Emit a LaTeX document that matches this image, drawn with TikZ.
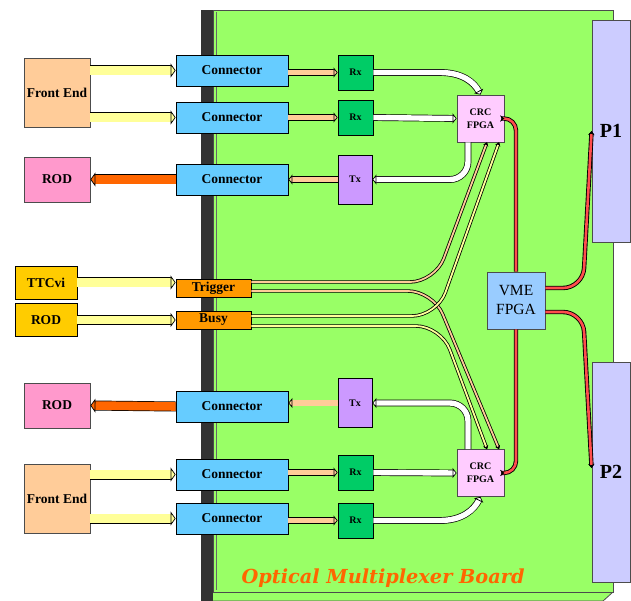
\documentclass[tikz,border=0pt]{standalone}
\usepackage{fontspec}
\usepackage{xcolor}
\usepackage{tikz}
\usetikzlibrary{arrows.meta}
\setmainfont{Liberation Serif}
\newfontfamily\titlefont{DejaVu Serif}

% colours
\definecolor{boardgreen}{HTML}{99FF66}
\definecolor{stripgray}{HTML}{333333}
\definecolor{fepeach}{HTML}{FFCC99}
\definecolor{rodpink}{HTML}{FF99CC}
\definecolor{connblue}{HTML}{66CCFF}
\definecolor{ttcgold}{HTML}{FFCC00}
\definecolor{trigorange}{HTML}{FF9900}
\definecolor{rxgreen}{HTML}{00CC66}
\definecolor{txviolet}{HTML}{CC99FF}
\definecolor{crcpink}{HTML}{FFCCFF}
\definecolor{vmeblue}{HTML}{99CCFF}
\definecolor{plilac}{HTML}{CCCCFF}
\definecolor{feedyellow}{HTML}{FFFF99}
\definecolor{rodorange}{HTML}{FF6600}
\definecolor{vmered}{HTML}{FF4D4D}

\tikzset{
  % boxes
  box/.style={draw=black, line width=0.8pt, inner sep=0pt, align=center,
    font=\fontsize{13.5}{15}\selectfont\bfseries},
  fe/.style={box, fill=fepeach, draw=black!70, minimum width=66pt, minimum height=69pt},
  rod/.style={box, fill=rodpink, draw=black!70, minimum width=66pt, minimum height=45pt},
  ttc/.style={box, fill=ttcgold, minimum width=62pt, minimum height=33pt},
  conn/.style={box, fill=connblue, minimum width=112pt, minimum height=31pt},
  trig/.style={box, fill=trigorange, minimum width=75pt, minimum height=18pt},
  rx/.style={box, fill=rxgreen, minimum width=35pt, minimum height=35pt,
    font=\fontsize{10}{12}\selectfont\bfseries},
  tx/.style={rx, fill=txviolet, minimum width=34pt, minimum height=49pt},
  crc/.style={box, fill=crcpink, draw=black!70, minimum width=47pt, minimum height=47pt,
    font=\fontsize{10}{13}\selectfont\bfseries},
  vme/.style={box, fill=vmeblue, draw=black!70, minimum width=58pt, minimum height=57pt,
    font=\fontsize{15.5}{19}\selectfont},
  pslot/.style={box, fill=plilac, draw=black!70, minimum width=38pt,
    font=\fontsize{20}{22}\selectfont\bfseries},
  % block arrows
  bigarrow/.style={draw=#1, line width=8.6pt,
    -{Triangle[length=5pt, width=14pt, color=black, fill=#1, line width=0.7pt]},
    preaction={draw=black, line width=10pt, arrows=-, shorten >=4pt}},
  medarrow/.style={draw=#1, line width=5.4pt,
    -{Triangle[length=4pt, width=10pt, color=black, fill=#1, line width=0.7pt]},
    preaction={draw=black, line width=6.8pt, arrows=-, shorten >=3pt}},
  % signal lines
  sigline/.style={draw=#1, line width=1.8pt, -{Stealth[length=3.5pt, width=5pt, color=black]},
    preaction={draw=black, line width=3.4pt}},
  busline/.style={draw=vmered, line width=2.6pt, -{Stealth[length=4pt, width=6pt, color=black]},
    preaction={draw=black, line width=4.4pt}}
}

\begin{document}
\begin{tikzpicture}[x=1pt, y=-1pt]
  \useasboundingbox (0,0) rectangle (631,601);

  % Board
  \fill[stripgray] (201,10) rectangle (213,601);
  \draw[fill=boardgreen, draw=black!70, line width=0.8pt] (213,592) -- (613,592) -- (603,601) -- (213,601);
  \draw[fill=boardgreen, draw=black!70, line width=0.8pt] (213,10) rectangle (613,592);
  \draw[black!60, line width=0.6pt] (216,12) -- (216,590);

  % Backplane connectors
  \node[pslot, minimum height=222pt] (p1) at (611,131) {P1};
  \node[pslot, minimum height=220pt] (p2) at (611,472) {P2};

  % Outside
  \node[fe]  (fe1)   at (57,92.5)   {Front End};
  \node[rod] (rod1)  at (57,179.5)  {ROD};
  \node[ttc] (ttcvi) at (46,282.5)  {TTCvi};
  \node[ttc] (rod2)  at (46,320)    {ROD};
  \node[rod] (rod3)  at (57,405.5)  {ROD};
  \node[fe]  (fe2)   at (57,499)    {Front End};

  % Front panel
  \node[conn] (conn1) at (232,70.5)  {Connector};
  \node[conn] (conn2) at (232,117.5) {Connector};
  \node[conn] (conn3) at (232,179.5) {Connector};
  \node[trig] (trig)  at (213.5,288) {Trigger};
  \node[trig] (busy)  at (213.5,320) {Busy};
  \node[conn] (conn4) at (232,406.5) {Connector};
  \node[conn] (conn5) at (232,474.5) {Connector};
  \node[conn] (conn6) at (232,518.5) {Connector};

  % Transceivers
  \node[rx] (rx1) at (355.5,72.5)  {Rx};
  \node[rx] (rx2) at (355.5,117.5) {Rx};
  \node[tx] (tx1) at (355,179.5)   {Tx};
  \node[tx] (tx2) at (355,403)     {Tx};
  \node[rx] (rx3) at (355.5,472.5) {Rx};
  \node[rx] (rx4) at (355.5,520.5) {Rx};

  % FPGAs
  \node[crc] (crc1) at (480.5,118.5) {CRC\\FPGA};
  \node[crc] (crc2) at (480.5,473)   {CRC\\FPGA};
  \node[vme] (vme)  at (516,300.5)   {VME\\FPGA};

  % Inputs and outputs
  \draw[bigarrow=feedyellow] (fe1.east |- conn1.west) -- (conn1.west);
  \draw[bigarrow=feedyellow] (fe1.east |- conn2.west) -- (conn2.west);
  \draw[bigarrow=rodorange] (conn3.west) -- (rod1.east);
  \draw[bigarrow=feedyellow] (ttcvi.east) -- (trig.west |- ttcvi.east);
  \draw[bigarrow=feedyellow] (rod2.east) -- (busy.west);
  \draw[bigarrow=rodorange] (conn4.west) -- (rod3.east);
  \draw[bigarrow=feedyellow] (fe2.east |- conn5.west) -- (conn5.west);
  \draw[bigarrow=feedyellow] (fe2.east |- conn6.west) -- (conn6.west);

  % Optical links
  \draw[medarrow=fepeach] (conn1.east |- rx1.west) -- (rx1.west);
  \draw[medarrow=fepeach] (conn2.east |- rx2.west) -- (rx2.west);
  \draw[medarrow=fepeach] (tx1.west) -- (conn3.east |- tx1.west);
  \draw[medarrow=fepeach] (tx2.west) -- (conn4.east |- tx2.west);
  \draw[medarrow=fepeach] (conn5.east |- rx3.west) -- (rx3.west);
  \draw[medarrow=fepeach] (conn6.east |- rx4.west) -- (rx4.west);

  % Serial data
  \draw[medarrow=white] (rx1.east) -- (440,72.5) .. controls (462,72.5) and (474,82) .. (crc1.north);
  \draw[medarrow=white] (rx2.east) -- (crc1.west);
  \draw[medarrow=white, rounded corners=18pt] ([xshift=-12.5pt]crc1.south) |- (tx1.east);
  \draw[medarrow=white, rounded corners=18pt] ([xshift=-12.5pt]crc2.north) |- (tx2.east);
  \draw[medarrow=white] (rx3.east) -- (crc2.west);
  \draw[medarrow=white] (rx4.east) -- (440,520.5) .. controls (462,520.5) and (474,510) .. (crc2.south);

  % Trigger and busy
  \draw[sigline=fepeach, rounded corners=25pt] ([yshift=6pt]trig.east) -- (435,282) -- ([xshift=6.5pt]crc1.south);
  \draw[sigline=fepeach, rounded corners=25pt] ([yshift=-3pt]trig.east) -- (433,291) -- ([xshift=18.5pt]crc2.north);
  \draw[sigline=feedyellow, rounded corners=25pt] ([yshift=4pt]busy.east) -- (437,316) -- ([xshift=18.5pt]crc1.south);
  \draw[sigline=feedyellow, rounded corners=25pt] ([yshift=-6pt]busy.east) -- (441,326) -- ([xshift=6.5pt]crc2.north);

  % VME bus
  \draw[busline, rounded corners=12pt] (vme.north) |- (crc1.east);
  \draw[busline, rounded corners=12pt] (vme.south) |- (crc2.east);
  \draw[busline, rounded corners=20pt] ([yshift=12.5pt]vme.east) -- (583,288) -- (p1.west);
  \draw[busline, rounded corners=20pt] ([yshift=-11.5pt]vme.east) -- (583,312) -- ([yshift=4pt]p2.west);

  % Title
  \node[anchor=base west, text=rodorange, font=\titlefont\fontsize{19.3}{21}\selectfont\bfseries\itshape]
    (title) at (238,583) {Optical Multiplexer Board};
\end{tikzpicture}
\end{document}
